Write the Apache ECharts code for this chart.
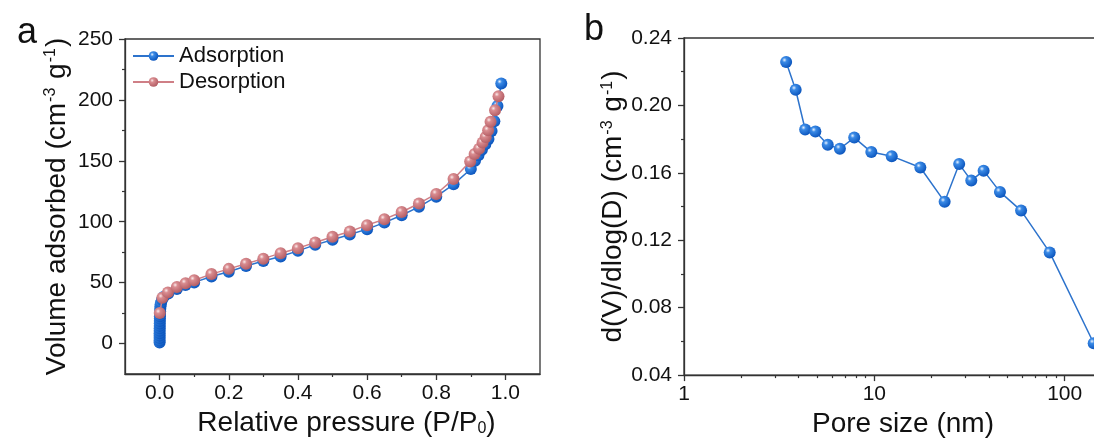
<!DOCTYPE html>
<html><head><meta charset="utf-8">
<script src="https://cdn.jsdelivr.net/npm/echarts@6/dist/echarts.min.js"></script>
<style>html,body{margin:0;padding:0;background:#fff;overflow:hidden;width:1094px;height:443px}#c{width:1122px;height:443px;position:absolute;left:0;top:0}</style>
</head><body><div id="c"></div>
<script>
// ---- Panel a: N2 isotherm ----
const adsX = [0.00002,0.00004,0.00007,0.0001,0.00015,0.0002,0.0003,0.0004,0.0005,0.0006,0.0008,0.001,0.0013,0.0016,0.002,0.0025,0.003,0.004,
  0.007,0.012,0.025,0.05,0.075,0.1,0.15,0.2,0.25,0.3,0.35,0.4,0.45,0.5,0.55,0.6,0.65,0.7,0.75,0.8,0.85,0.9,
  0.912,0.922,0.932,0.942,0.951,0.96,0.968,0.977,0.988];
const adsY = [0.8,2.5,4.5,6.5,8.5,10.5,12.5,14.5,16.5,18.5,20.5,22.5,24.5,26.5,28.5,30.5,32,33.5,
  36,38.5,41,44.8,48,50.2,55,59,63.6,67.7,71.5,76.1,81,85.2,89.5,93.9,99.3,105.3,112.2,120.6,130.7,143.3,
  150,154.5,159,163.5,168,174.5,182.5,195,213.5];
const desX = [0.0005,0.008,0.024,0.05,0.075,0.1,0.15,0.2,0.25,0.3,0.35,0.4,0.45,0.5,0.55,0.6,0.65,0.7,0.75,0.8,0.85,
  0.898,0.911,0.924,0.934,0.943,0.95,0.957,0.97,0.98];
const desY = [25,37.5,42,46.5,49.5,52,57,61.3,65.5,69.7,74.2,78.3,83,87.6,92,97.2,102.1,108,115,122.8,135,
  149.5,155.6,160,165,169.5,175,182,191.5,203];
const aXTicks = [0,0.2,0.4,0.6,0.8,1.0];
const aXMinor = [0.1,0.3,0.5,0.7,0.9];
const aYTicks = [0,50,100,150,200,250];
const aYMinor = [25,75,125,175,225];

// ---- Panel b: pore size distribution ----
const poreSize = [3.44,3.86,4.33,4.90,5.69,6.59,7.84,9.64,12.34,17.44,23.4,27.9,32.3,37.5,45.7,59.0,83.4,142];
const poreDist = [0.2258,0.2093,0.1857,0.1845,0.1766,0.1743,0.1809,0.1723,0.1699,0.1632,0.1428,0.1652,0.1554,0.1613,0.1487,0.1376,0.1128,0.0589];
const bXMinor = [2,3,4,5,6,7,8,9,20,30,40,50,60,70,80,90];
const bXMin = 1, bXMax = 200;

const FONT = '"Liberation Sans", Arial, sans-serif';
const TXT = '#111';
const AX = '#333';

function ball(hi, mid, dark){
  return {type:'radial', x:0.36, y:0.34, r:0.68, colorStops:[
    {offset:0, color:hi},{offset:0.28, color:mid},{offset:1, color:dark}]};
}
const blueBall = ball('#e9f3ff','#3a8ae6','#0b55bd');
const pinkBall = ball('#fbecec','#d98c90','#b35d64');

const zip = (a,b)=>a.map((v,i)=>[v,b[i]]);

const axisLineStyle = {show:true, onZero:false, lineStyle:{color:AX, width:1.3}};
const labelStyle = {color:TXT, fontSize:21, fontFamily:FONT};
const nameRich = {
  t:{fontSize:28, fontFamily:FONT, color:TXT},
  s:{fontSize:16, fontFamily:FONT, color:TXT, verticalAlign:'top', padding:[0,1,0,1]},
  b:{fontSize:16, fontFamily:FONT, color:TXT, verticalAlign:'bottom'}
};

const chart = echarts.init(document.getElementById('c'), null, {renderer:'canvas', width:1122, height:443});
chart.setOption({
  animation:false,
  backgroundColor:'#fff',
  title:[
    {text:'a', left:12, top:10, textStyle:{fontSize:36, fontWeight:'normal', fontFamily:FONT, color:TXT}},
    {text:'b', left:579, top:7, textStyle:{fontSize:36, fontWeight:'normal', fontFamily:FONT, color:TXT}}
  ],
  legend:{
    data:['Adsorption','Desorption'],
    orient:'vertical', left:127, top:40,
    itemWidth:41, itemHeight:12, itemGap:4,
    textStyle:{fontSize:22, fontFamily:FONT, color:TXT}
  },
  grid:[
    {left:125, top:39, width:415, height:335, show:true, borderColor:AX, borderWidth:1.3, containLabel:false},
    {left:684, top:38, width:438, height:338, show:true, borderColor:AX, borderWidth:1.3, containLabel:false}
  ],
  xAxis:[
    {gridIndex:0, type:'value', min:-0.1, max:1.1,
     axisLine:axisLineStyle, splitLine:{show:false},
     axisTick:{customValues:aXTicks, length:6, lineStyle:{color:AX, width:1.3}},
     axisLabel:Object.assign({customValues:aXTicks, margin:9, formatter:v=>v.toFixed(1)}, labelStyle),
     name:'{t|Relative pressure (P/P}{b|0}{t|)}', nameLocation:'middle', nameGap:34,
     nameTextStyle:{rich:nameRich, padding:[0,0,0,28]}},
    {gridIndex:0, type:'value', min:-0.1, max:1.1, position:'bottom',
     axisLine:{show:false, onZero:false}, splitLine:{show:false}, axisLabel:{show:false},
     axisTick:{customValues:aXMinor, length:3, lineStyle:{color:AX, width:1.2}}},
    {gridIndex:1, type:'log', logBase:10, min:bXMin, max:bXMax,
     axisLine:axisLineStyle, splitLine:{show:false},
     axisTick:{length:6, lineStyle:{color:AX, width:1.3}},
     axisLabel:Object.assign({margin:9, showMaxLabel:false}, labelStyle),
     name:'{t|Pore size (nm)}', nameLocation:'middle', nameGap:34,
     nameTextStyle:{rich:nameRich}},
    // minor ticks of the log axis, on a helper axis measured in decades
    {gridIndex:1, type:'value', min:Math.log10(bXMin), max:Math.log10(bXMax), position:'bottom',
     axisLine:{show:false, onZero:false}, splitLine:{show:false}, axisLabel:{show:false},
     axisTick:{customValues:bXMinor.map(Math.log10), length:3, lineStyle:{color:AX, width:1.2}}}
  ],
  yAxis:[
    {gridIndex:0, type:'value', min:-25, max:250,
     axisLine:axisLineStyle, splitLine:{show:false},
     axisTick:{customValues:aYTicks, length:6, lineStyle:{color:AX, width:1.3}},
     axisLabel:Object.assign({customValues:aYTicks, margin:12}, labelStyle),
     name:'{t|Volume adsorbed (cm}{s|-3}{t| g}{s|-1}{t|)}', nameLocation:'middle', nameGap:54, nameRotate:90,
     nameTextStyle:{rich:nameRich}},
    {gridIndex:0, type:'value', min:-25, max:250, position:'left',
     axisLine:{show:false, onZero:false}, splitLine:{show:false}, axisLabel:{show:false},
     axisTick:{customValues:aYMinor, length:3, lineStyle:{color:AX, width:1.2}}},
    {gridIndex:1, type:'value', min:0.04, max:0.24, interval:0.04,
     axisLine:axisLineStyle, splitLine:{show:false},
     axisTick:{length:6, lineStyle:{color:AX, width:1.3}},
     minorTick:{show:true, splitNumber:2, length:3, lineStyle:{color:AX, width:1.2}},
     axisLabel:Object.assign({margin:12, formatter:v=>v.toFixed(2)}, labelStyle),
     name:'{t|d(V)/dlog(D) (cm}{s|-3}{t| g}{s|-1}{t|)}', nameLocation:'middle', nameGap:54, nameRotate:90,
     nameTextStyle:{rich:nameRich}}
  ],
  series:[
    {name:'Adsorption', type:'line', xAxisIndex:0, yAxisIndex:0, data:zip(adsX,adsY),
     symbol:'circle', symbolSize:12, showSymbol:true,
     lineStyle:{color:'#2d73cc', width:1.5}, itemStyle:{color:blueBall}, z:2},
    {name:'Desorption', type:'line', xAxisIndex:0, yAxisIndex:0, data:zip(desX,desY),
     symbol:'circle', symbolSize:12, showSymbol:true,
     lineStyle:{color:'#cf7f86', width:1.5}, itemStyle:{color:pinkBall}, z:3},
    {name:'PSD', type:'line', xAxisIndex:2, yAxisIndex:2, data:zip(poreSize,poreDist),
     symbol:'circle', symbolSize:12, showSymbol:true,
     lineStyle:{color:'#2d73cc', width:1.5}, itemStyle:{color:blueBall}, z:2}
  ]
});
</script></body></html>
